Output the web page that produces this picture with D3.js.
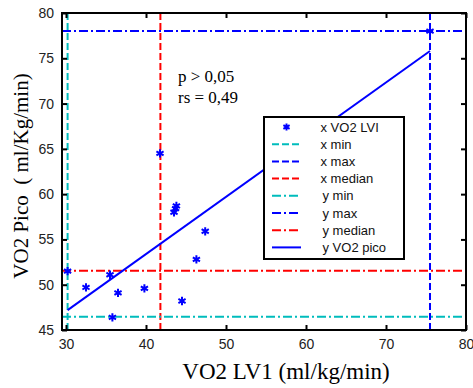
<!DOCTYPE html>
<html><head><meta charset="utf-8">
<script src="https://cdn.jsdelivr.net/npm/d3@7"></script>
<style>body{margin:0;background:#fff}</style>
</head><body>
<svg id="c" width="473" height="388"></svg>
<script>
const xVals = [30.2, 32.5, 35.5, 35.8, 36.5, 39.8, 41.75, 43.5, 43.7, 43.8, 44.5, 46.3, 47.4, 75.5];
const yVals = [51.5, 49.7, 51.1, 46.4, 49.1, 49.6, 64.5, 58.0, 58.4, 58.7, 48.2, 52.8, 55.9, 78.0];
const xTicks = [30, 40, 50, 60, 70, 80];
const yTicks = [45, 50, 55, 60, 65, 70, 75, 80];
const xMin = 30.2, xMax = 75.5, xMedian = 41.8;
const yMin = 46.45, yMax = 78.0, yMedian = 51.55;
const fitX = [30.2, 75.5];
const fitY = [47.2, 75.8];
const legendLabels = ["x VO2 LVI","x min","x max","x median","y min","y max","y median","y VO2 pico"];

const svg = d3.select("#c");
const x = d3.scaleLinear().domain([29.5, 80]).range([62, 466]);
const y = d3.scaleLinear().domain([45, 80]).range([330, 13]);
const CY = "#00bcbc", BL = "#0000ff", RD = "#ff0000";
const DASH = "7,3", DASHDOT = "9,3,2,3";

const vlines = [[xMin, CY, DASH], [xMax, BL, DASH], [xMedian, RD, DASH]];
const hlines = [[yMin, CY, DASHDOT], [yMax, BL, DASHDOT], [yMedian, RD, DASHDOT]];
vlines.forEach(([v,c,d]) => svg.append("line").attr("x1", x(v)).attr("x2", x(v)).attr("y1", y(45)).attr("y2", y(80))
  .attr("stroke", c).attr("stroke-width", 2).attr("stroke-dasharray", d));
hlines.forEach(([v,c,d]) => svg.append("line").attr("x1", x(29.5)).attr("x2", x(80)).attr("y1", y(v)).attr("y2", y(v))
  .attr("stroke", c).attr("stroke-width", 2).attr("stroke-dasharray", d));

svg.append("line").attr("x1", x(fitX[0])).attr("y1", y(fitY[0])).attr("x2", x(fitX[1])).attr("y2", y(fitY[1]))
  .attr("stroke", BL).attr("stroke-width", 2);

const sym = d3.symbol().type(d3.symbolAsterisk).size(48);
svg.selectAll(".pt").data(xVals.map((v,i)=>[v,yVals[i]])).join("path")
  .attr("transform", d => `translate(${x(d[0])},${y(d[1])})`)
  .attr("d", sym).attr("stroke", BL).attr("stroke-width", 2).attr("fill", "none");

const ax = g => g.selectAll("text").attr("font-family", "Liberation Sans, Arial, sans-serif").attr("font-size", 14).attr("fill", "#222");
svg.append("g").attr("transform", "translate(0,330)")
  .call(d3.axisBottom(x).tickValues(xTicks).tickSizeInner(-5).tickSizeOuter(0).tickPadding(9))
  .call(g => g.select(".domain").remove()).call(ax).call(g => g.selectAll("line").attr("stroke-width", 2));
svg.append("g").attr("transform", "translate(62,0)")
  .call(d3.axisLeft(y).tickValues(yTicks).tickSizeInner(-5).tickSizeOuter(0).tickPadding(8))
  .call(g => g.select(".domain").remove()).call(ax).call(g => g.selectAll("line").attr("stroke-width", 2));
svg.append("g").attr("transform", "translate(0,13)")
  .call(d3.axisTop(x).tickValues(xTicks).tickSizeInner(-5).tickSizeOuter(0).tickFormat(""))
  .call(g => g.select(".domain").remove()).call(g => g.selectAll("line").attr("stroke-width", 2));
svg.append("g").attr("transform", "translate(466,0)")
  .call(d3.axisRight(y).tickValues(yTicks).tickSizeInner(-5).tickSizeOuter(0).tickFormat(""))
  .call(g => g.select(".domain").remove()).call(g => g.selectAll("line").attr("stroke-width", 2));

svg.append("rect").attr("x", 62).attr("y", 13).attr("width", 404).attr("height", 317)
  .attr("fill", "none").attr("stroke", "#000").attr("stroke-width", 2);

const serif = "Liberation Serif, Times New Roman, serif";
svg.append("text").attr("x", 178).attr("y", 82).attr("font-family", serif).attr("font-size", 17).text("p > 0,05");
svg.append("text").attr("x", 178).attr("y", 103).attr("font-family", serif).attr("font-size", 17).text("rs = 0,49");
svg.append("text").attr("x", 286).attr("y", 379).attr("text-anchor", "middle").attr("font-family", serif).attr("font-size", 23).text("VO2 LV1 (ml/kg/min)");
svg.append("text").attr("transform", "translate(28,176) rotate(-90)").attr("text-anchor", "middle").attr("font-family", serif).attr("font-size", 21)
  .attr("xml:space", "preserve").text("VO2 Pico  ( ml/Kg/min)");

const lg = svg.append("g");
lg.append("rect").attr("x", 264).attr("y", 117).attr("width", 140).attr("height", 142).attr("fill", "#fff").attr("stroke", "#000").attr("stroke-width", 2);
const styles = [null, [CY, DASH], [BL, DASH], [RD, DASH], [CY, DASHDOT], [BL, DASHDOT], [RD, DASHDOT], [BL, null]];
legendLabels.forEach((lab, i) => {
  const cy = 127 + i * 17.2;
  if (i === 0) {
    lg.append("path").attr("transform", `translate(286.5,${cy})`).attr("d", d3.symbol().type(d3.symbolAsterisk).size(36))
      .attr("stroke", BL).attr("stroke-width", 2).attr("fill", "none");
  } else {
    const [c, d] = styles[i];
    lg.append("line").attr("x1", 272).attr("x2", i === 7 ? 301 : 299).attr("y1", cy).attr("y2", cy)
      .attr("stroke", c).attr("stroke-width", 2).attr("stroke-dasharray", d);
  }
  lg.append("text").attr("x", i >= 4 ? 322.5 : 320.5).attr("y", cy).attr("dy", "0.35em")
    .attr("font-family", "Liberation Sans, Arial, sans-serif").attr("font-size", 13).attr("fill", "#111").text(lab);
});
</script>
</body></html>
